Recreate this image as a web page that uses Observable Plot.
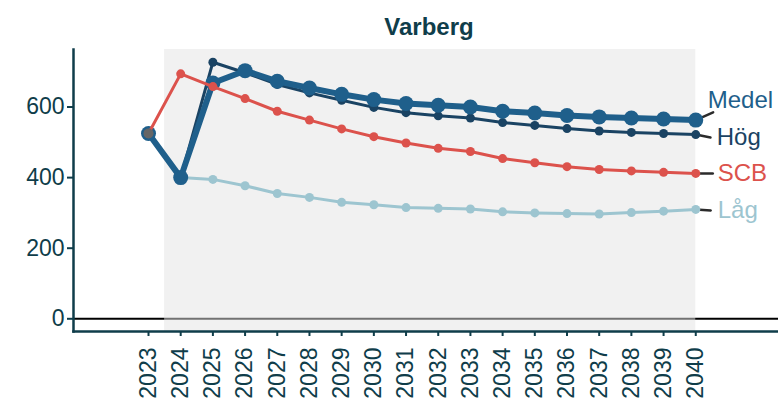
<!DOCTYPE html>
<html><head><meta charset="utf-8">
<script src="https://cdn.jsdelivr.net/npm/d3@7"></script>
<script src="https://cdn.jsdelivr.net/npm/@observablehq/plot@0.6"></script>
<style>body{margin:0;background:#fff} svg{display:block}</style>
</head><body><div id="chart"></div>
<script>
const title = "Varberg";
const years = [2023,2024,2025,2026,2027,2028,2029,2030,2031,2032,2033,2034,2035,2036,2037,2038,2039,2040];
const medel = [525,400,668,703,673,654,636,621,610,605,600,588,583,576,572,569,566,563];
const hog   = [525,400,727,697,664,640,619,599,584,575,569,556,548,539,532,528,525,522];
const scb   = [525,694,658,624,588,563,538,516,498,483,474,454,442,431,423,419,415,412];
const lag   = [525,400,395,377,355,344,330,323,315,313,311,303,300,298,297,301,305,310];
const observedYears = [2023];
const observedValues = [525];
const yTicks = [0,200,400,600];
const shadeFrom = 2023.5, shadeTo = 2040;

const seriesValues = {"Låg": lag, "Hög": hog, "Medel": medel, "SCB": scb};
const drawOrder = ["Låg","Hög","Medel","SCB"];
const style = {
  "Medel": {color:"#1f5f8b", width:6, r:7.5, dx:12, dy:-20, rot:66, len:19},
  "Hög":   {color:"#1a4363", width:3, r:4.5, dx:21, dy:3,   rot:101, len:15},
  "SCB":   {color:"#dc524c", width:3, r:4.5, dx:22, dy:0,   rot:90, len:17},
  "Låg":   {color:"#9dc5d0", width:3, r:4.5, dx:22, dy:1,   rot:94, len:15}
};
const ink = "#0f3d4a";
const font = "Liberation Sans, Arial, sans-serif";

const rows = s => years.map((year, i) => ({series: s, year, value: seriesValues[s][i]}));
const last = s => rows(s).slice(-1);
const lineShape = {draw(ctx, l) { ctx.moveTo(0, 0); ctx.lineTo(0, -l); }};

const marks = [
  Plot.ruleY([0], {stroke: "#000", strokeWidth: 2}),
  Plot.rect([{x1: shadeFrom, x2: shadeTo}], {x1: "x1", x2: "x2", fill: "#e3e3e3", fillOpacity: 0.5}),
  Plot.frame({anchor: "left", stroke: ink, strokeWidth: 2.5}),
  Plot.frame({anchor: "bottom", stroke: ink, strokeWidth: 2.5}),
  Plot.axisY({ticks: yTicks, label: null, tickSize: 6, tickPadding: 3, fontSize: 23, stroke: ink, fill: ink, strokeWidth: 2}),
  Plot.axisX({ticks: years, label: null, tickFormat: "d", tickRotate: -90, tickSize: 5, tickPadding: 11, fontSize: 23, stroke: ink, fill: ink, strokeWidth: 2}),
  ...drawOrder.map(s => Plot.vector(last(s), {x: "year", y: "value", rotate: style[s].rot, length: style[s].len, anchor: "start", stroke: "#2b2b2b", strokeWidth: 2.5, shape: lineShape})),
];
for (const s of drawOrder) {
  marks.push(Plot.line(rows(s), {x: "year", y: "value", stroke: style[s].color, strokeWidth: style[s].width}));
  marks.push(Plot.dot(rows(s), {x: "year", y: "value", fill: style[s].color, r: style[s].r}));
}
marks.push(Plot.dot(observedYears.map((year, i) => ({year, value: observedValues[i]})), {x: "year", y: "value", fill: "#666", r: 5}));
for (const s of drawOrder) {
  marks.push(Plot.text(last(s), {x: "year", y: "value", text: "series", dx: style[s].dx, dy: style[s].dy, textAnchor: "start", fill: style[s].color, fontSize: 24}));
}
marks.push(Plot.text([title], {frameAnchor: "top", lineAnchor: "middle", dx: 3, dy: -22, fontSize: 24, fontWeight: "bold", fill: ink}));

const chart = Plot.plot({
  width: 778, height: 401,
  marginLeft: 73, marginRight: 0, marginTop: 49, marginBottom: 70,
  style: {fontFamily: font, background: "#fff"},
  x: {domain: [2020.67, 2042.57], axis: null},
  y: {domain: [-36, 763], axis: null},
  marks
});
document.getElementById("chart").append(chart);
</script></body></html>
